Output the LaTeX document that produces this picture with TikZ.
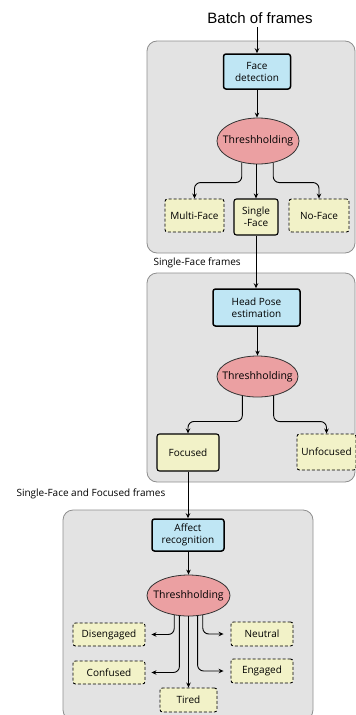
\documentclass[tikz,border=0pt]{standalone}
\usepackage{fontspec}
\setmainfont{Open Sans}
\newfontfamily\batchfont{Liberation Sans}
\usetikzlibrary{shapes.geometric,arrows.meta}

\definecolor{stagegray}{HTML}{E3E3E3}
\definecolor{stageline}{HTML}{8E8E8E}
\definecolor{procblue}{HTML}{BFE6F4}
\definecolor{threshred}{HTML}{EBA0A2}
\definecolor{resyellow}{HTML}{F2F2C8}

\tikzset{
    stage/.style={draw=stageline, fill=stagegray, line width=0.8pt, rounded corners=10pt},
    process/.style={draw, fill=procblue, line width=1.5pt, rounded corners=2.5pt, align=center, inner sep=0pt},
    thresh/.style={ellipse, draw=black!80, fill=threshred, line width=0.8pt, inner sep=0pt,
        label={[font=\fontsize{10.5}{12}\selectfont]center:Threshholding}},
    result/.style={draw, fill=resyellow, dash pattern=on 3pt off 2pt, line width=0.9pt, rounded corners=2.5pt, align=center, inner sep=0pt},
    chosen/.style={result, solid, line width=1.1pt},
    arr/.style={-{Stealth[length=5pt,width=4.5pt]}, line width=0.9pt, rounded corners=6pt},
}

\begin{document}
\begin{tikzpicture}[x=1pt, y=-1pt, font=\fontsize{10}{12}\selectfont]
    \useasboundingbox (0,0) rectangle (356,715);

    % the three stages
    \draw [stage] (147,41) rectangle (355,253);
    \draw [stage] (147,273) rectangle (355,482);
    \draw [stage] (63,510) rectangle (313,720);

    % stage 1
    \node (batch) at (260,18) {\batchfont\fontsize{15}{17}\selectfont Batch of frames};
    \node [process, minimum width=67pt, minimum height=35pt] (fd) at (257,71.5) {Face\\detection};
    \node [thresh, minimum width=82pt, minimum height=46pt] (th1) at (258,141) {};
    \node [result, minimum width=59pt, minimum height=33pt] (mf) at (194.5,215.5) {Multi-Face};
    \node [chosen, minimum width=44pt, minimum height=36pt] (sf) at (256,217) {Single\\-Face};
    \node [result, minimum width=60pt, minimum height=33pt] (nf) at (319,215.5) {No-Face};

    % stage 2
    \node [anchor=west] (sflabel) at (150,263) {Single-Face frames};
    \node [process, minimum width=87pt, minimum height=37pt] (hp) at (256.5,307.5) {Head Pose\\estimation};
    \node [thresh, minimum width=81pt, minimum height=41pt] (th2) at (257.5,376.5) {};
    \node [chosen, minimum width=62pt, minimum height=37pt] (fo) at (188,452.5) {Focused};
    \node [result, minimum width=59pt, minimum height=36pt] (uf) at (326.5,452) {Unfocused};

    % stage 3
    \node [anchor=west] (folabel) at (13,494) {Single-Face and Focused frames};
    \node [process, minimum width=72pt, minimum height=32pt] (ar) at (188,535) {Affect\\recognition};
    \node [thresh, minimum width=83pt, minimum height=41pt] (th3) at (188.5,595.5) {};
    \node [result, minimum width=72pt, minimum height=23pt] (dis) at (109,634.5) {Disengaged};
    \node [result, minimum width=62pt, minimum height=24pt] (neu) at (262,634) {Neutral};
    \node [result, minimum width=72pt, minimum height=23pt] (con) at (109,672.5) {Confused};
    \node [result, minimum width=62pt, minimum height=24pt] (eng) at (262,671) {Engaged};
    \node [result, minimum width=57pt, minimum height=24pt] (tir) at (188.5,700) {Tired};

    % connectors
    \draw [arr] (batch.south -| fd.north) -- (fd.north);
    \draw [arr] (fd.south) -- (fd.south |- th1.north);
    \draw [arr] (th1.233) |- ([yshift=16pt]mf.north) -- (mf.north);
    \draw [arr] (th1.south -| sf.north) -- (sf.north);
    \draw [arr] (th1.305) |- ([yshift=16pt]nf.north) -- (nf.north);

    \draw [arr] (sf.south) -- (sf.south |- hp.north);
    \draw [arr] (hp.south -| th2.north) -- (th2.north);
    \draw [arr] (th2.232) |- ([yshift=12pt]fo.north) -- (fo.north);
    \draw [arr] (th2.310) |- ([yshift=12pt]uf.north) -- (uf.north);

    \draw [arr] (fo.south) -- (fo.south |- ar.north);
    \draw [arr] (ar.south -| th3.north) -- (th3.north);
    \draw [arr, shorten >=6pt] (th3.234) |- (dis.east);
    \draw [arr, shorten >=6pt] (th3.246) |- (con.east);
    \draw [arr] (th3.south -| tir.north) -- (tir.north);
    \draw [arr, shorten >=7pt] (th3.294) |- (eng.west);
    \draw [arr, shorten >=7pt] (th3.306) |- (neu.west);
\end{tikzpicture}
\end{document}
